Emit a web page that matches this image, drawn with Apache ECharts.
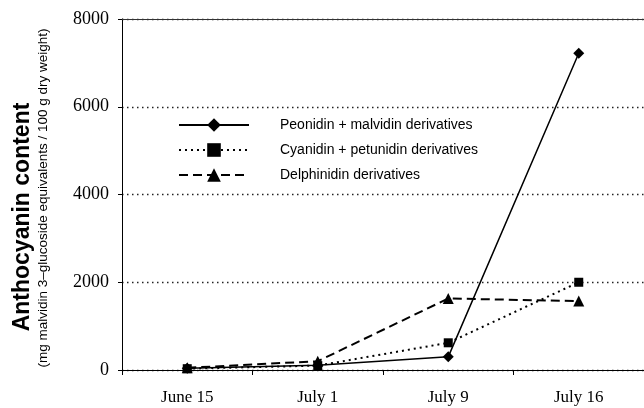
<!DOCTYPE html>
<html>
<head>
<meta charset="utf-8">
<script src="https://cdn.jsdelivr.net/npm/echarts@6/dist/echarts.min.js"></script>
<style>
html,body{margin:0;padding:0;background:#fff;}
#chart{width:644px;height:408px;}
</style>
</head>
<body>
<div id="chart"></div>
<script>
// 采样日期
var dates = ['June 15', 'July 1', 'July 9', 'July 16'];
// 各组花色苷含量 (mg / 100 g dry weight)
var peonidinMalvidin = [40, 110, 300, 7220];
var cyanidinPetunidin = [30, 100, 620, 2000];
var delphinidin = [50, 200, 1630, 1570];
var yTicks = [0, 2000, 4000, 6000, 8000];

var chart = echarts.init(document.getElementById('chart'));
var serif = '"Liberation Serif", "Times New Roman", serif';
var sans = '"Liberation Sans", Arial, sans-serif';

var baseSeries = {
    type: 'line',
    color: '#000',
    showAllSymbol: true,
    z: 3
};

var option = {
    animation: false,
    backgroundColor: '#fff',
    grid: {
        left: 122,
        right: 0,
        top: 19,
        bottom: 38
    },
    legend: {
        orient: 'vertical',
        left: 178,
        top: 118,
        padding: 0,
        itemWidth: 70,
        itemHeight: 17,
        itemGap: 11,
        textStyle: {
            fontFamily: sans,
            fontSize: 14,
            color: '#000',
            padding: [0, 0, 0, 26]
        },
        data: ['Peonidin + malvidin derivatives', 'Cyanidin + petunidin derivatives', 'Delphinidin derivatives']
    },
    xAxis: [{
        type: 'category',
        data: dates,
        boundaryGap: true,
        axisLine: {lineStyle: {color: '#000', width: 1}},
        axisTick: {show: true, length: 5, lineStyle: {color: '#000'}},
        axisLabel: {
            margin: 19,
            color: '#000',
            fontFamily: serif,
            fontSize: 17
        },
        splitLine: {show: false}
    }, {
        //顶部边框
        type: 'category',
        position: 'top',
        data: dates,
        axisLine: {show: true, lineStyle: {color: '#333', width: 1.2}},
        axisTick: {show: false},
        axisLabel: {show: false}
    }],
    yAxis: {
        type: 'value',
        min: yTicks[0],
        max: yTicks[yTicks.length - 1],
        interval: 2000,
        axisLine: {show: true, lineStyle: {color: '#000', width: 1}},
        axisTick: {show: true, length: 4, lineStyle: {color: '#000'}},
        axisLabel: {
            margin: 13,
            color: '#000',
            fontFamily: serif,
            fontSize: 18,
            formatter: function(value) {
                return String(value);
            }
        },
        splitLine: {
            show: true,
            lineStyle: {color: '#222', width: 1.3, type: [1.5, 3.5]}
        }
    },
    graphic: [{
        type: 'text',
        x: 23,
        y: 217,
        rotation: Math.PI / 2,
        style: {
            text: 'Anthocyanin content',
            font: 'bold 23px ' + sans,
            fill: '#000',
            align: 'center',
            verticalAlign: 'middle'
        }
    }, {
        type: 'text',
        x: 43,
        y: 198,
        rotation: Math.PI / 2,
        style: {
            text: '(mg malvidin 3\u2013glucoside equivalents / 100 g dry weight)',
            font: '13.5px ' + sans,
            fill: '#000',
            align: 'center',
            verticalAlign: 'middle'
        }
    }],
    series: [
        echarts.util.merge({
            name: 'Peonidin + malvidin derivatives',
            data: peonidinMalvidin,
            symbol: 'diamond',
            symbolSize: 11,
            lineStyle: {color: '#000', width: 1.5, type: 'solid'},
            itemStyle: {color: '#000'}
        }, baseSeries),
        echarts.util.merge({
            name: 'Cyanidin + petunidin derivatives',
            data: cyanidinPetunidin,
            symbol: 'rect',
            symbolSize: 9,
            lineStyle: {color: '#000', width: 2, type: [2, 4]},
            itemStyle: {color: '#000'}
        }, baseSeries),
        echarts.util.merge({
            name: 'Delphinidin derivatives',
            data: delphinidin,
            symbol: 'triangle',
            symbolSize: 11,
            lineStyle: {color: '#000', width: 2, type: [9, 5]},
            itemStyle: {color: '#000'}
        }, baseSeries)
    ]
};

chart.setOption(option);
</script>
</body>
</html>
